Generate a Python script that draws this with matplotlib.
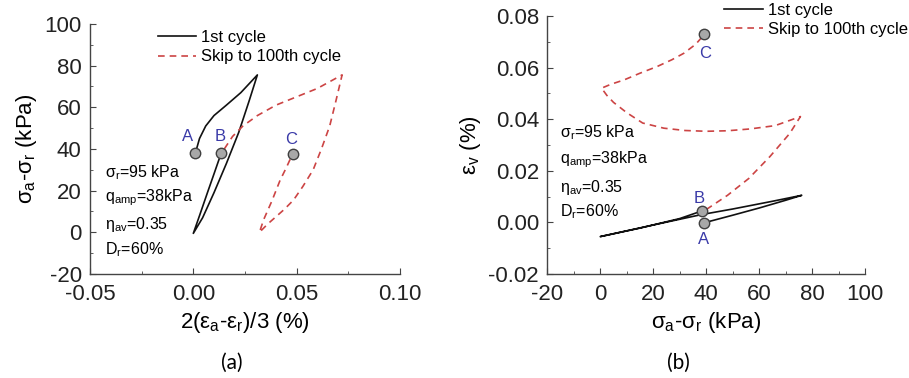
import matplotlib
matplotlib.use("Agg")
from matplotlib import pyplot as plt
from matplotlib.ticker import MultipleLocator

plt.rcParams['font.family'] = ['Liberation Sans', 'DejaVu Sans']
plt.rcParams['mathtext.fontset'] = 'custom'
plt.rcParams['mathtext.rm'] = 'Liberation Sans'
plt.rcParams['mathtext.it'] = 'Liberation Sans'
plt.rcParams['mathtext.default'] = 'regular'
plt.rcParams['axes.unicode_minus'] = False

# (a) deviator stress vs shear strain
c1_strain = [0.001, 0.003, 0.006, 0.010, 0.016, 0.023, 0.031, 0.027, 0.022, 0.016, 0.010, 0.0045, 0.000,
             0.003, 0.007, 0.010, 0.0135]
c1_q = [38, 45, 51, 56, 61, 67, 75.5, 63, 48, 33, 19, 7, -0.5,
        8, 19.5, 28, 38]
c100_strain = [0.015, 0.019, 0.024, 0.031, 0.040, 0.050, 0.060, 0.072, 0.069, 0.066, 0.062, 0.058, 0.053,
               0.0485, 0.044, 0.040, 0.036, 0.032, 0.034, 0.038, 0.042, 0.045, 0.048]
c100_q = [40, 46, 51, 56, 61, 65, 69, 75.5, 63, 51, 40, 30, 22,
          15.5, 11, 7.5, 4, 0, 6, 15, 25, 31, 37.5]
pts_strain = [0.001, 0.0135, 0.048]
pts_q = [38, 38, 37.5]

# (b) volumetric strain vs deviator stress
c1_qb = [39, 50, 60, 70, 76, 65, 50, 38, 20, 0, 15, 30, 38.5]
c1_ev = [-0.0002, 0.0028, 0.0056, 0.0086, 0.0105, 0.0082, 0.0052, 0.0030, -0.0010, -0.0055,
         -0.0022, 0.0015, 0.0045]
c100_qb = [40, 48, 56, 64, 71.5, 75.5, 66, 56.5, 48, 40, 32, 24, 16, 10, 5, 2.5, 0.5,
           4, 9, 15, 21.5, 27, 31.5, 36, 39]
c100_ev = [0.005, 0.0105, 0.017, 0.0255, 0.0345, 0.041, 0.0375, 0.0362, 0.0355, 0.0353, 0.0356,
           0.0365, 0.0385, 0.0425, 0.0465, 0.0492, 0.052,
           0.0535, 0.0552, 0.0578, 0.0604, 0.063, 0.0655, 0.069, 0.0725]
pts_qb = [39, 38.5, 39]
pts_ev = [-0.0001, 0.0044, 0.073]

labels = ["A", "B", "C"]
params = [r'$\sigma_r$=95 kPa', r'$q_{amp}$=38kPa', r'$\eta_{av}$=0.35', r'$D_r$=60%']

red = '#cc4444'
blue = '#3a3aa8'
mk = dict(marker='o', ms=7.5, mfc='#a8a8a8', mec='#404040', mew=1.0, ls='none', zorder=5)

fig = plt.figure(figsize=(9.09, 3.78), dpi=100)
ax1 = fig.add_axes([0.099, 0.275, 0.341, 0.662])
ax2 = fig.add_axes([0.602, 0.275, 0.350, 0.683])

for ax in (ax1, ax2):
    for s in ('top', 'right'):
        ax.spines[s].set_visible(False)
    for s in ('left', 'bottom'):
        ax.spines[s].set_color('#444444')
        ax.spines[s].set_linewidth(1.0)
    ax.tick_params(which='both', direction='in', colors='#444444', labelcolor='#222222')
    ax.tick_params(which='major', length=4, labelsize=16)
    ax.tick_params(which='minor', length=2.5)
    ax.tick_params(axis='x', pad=7)
    ax.tick_params(axis='y', pad=6)

l1, = ax1.plot(c1_strain, c1_q, color='#111111', lw=1.2)
l2, = ax1.plot(c100_strain, c100_q, color=red, lw=1.2, dashes=(4, 3))
ax1.plot(pts_strain, pts_q, **mk)
for lab, x, y in zip(labels, [-0.0026, 0.013, 0.0475], [46, 46, 44.5]):
    ax1.text(x, y, lab, color=blue, fontsize=12, ha='center', va='center')
ax1.set_xlim(-0.05, 0.10)
ax1.set_ylim(-20, 100)
ax1.xaxis.set_major_locator(MultipleLocator(0.05))
ax1.xaxis.set_minor_locator(MultipleLocator(0.025))
ax1.yaxis.set_major_locator(MultipleLocator(20))
ax1.yaxis.set_minor_locator(MultipleLocator(10))
ax1.xaxis.set_major_formatter(plt.FuncFormatter(lambda v, p: f"{v:.2f}"))
ax1.set_xlabel('2($ε_a$-$ε_r$)/3 (%)', fontsize=16, labelpad=4)
ax1.set_ylabel(r'$\sigma_a$-$\sigma_r$ (kPa)', fontsize=16, labelpad=4)
for t, yf in zip(params, [0.404, 0.306, 0.198, 0.098]):
    ax1.text(0.048, yf, t, transform=ax1.transAxes, fontsize=11.5, va='center', ha='left')

ax2.plot(c1_qb, c1_ev, color='#111111', lw=1.2)
ax2.plot(c100_qb, c100_ev, color=red, lw=1.2, dashes=(4, 3))
ax2.plot(pts_qb, pts_ev, **mk)
for lab, x, y in zip(labels, [39, 37.5, 39.6], [-0.0068, 0.0093, 0.0655]):
    ax2.text(x, y, lab, color=blue, fontsize=12, ha='center', va='center')
ax2.set_xlim(-20, 100)
ax2.set_ylim(-0.02, 0.08)
ax2.xaxis.set_major_locator(MultipleLocator(20))
ax2.xaxis.set_minor_locator(MultipleLocator(10))
ax2.yaxis.set_major_locator(MultipleLocator(0.02))
ax2.yaxis.set_minor_locator(MultipleLocator(0.01))
ax2.yaxis.set_major_formatter(plt.FuncFormatter(lambda v, p: f"{v:.2f}"))
ax2.set_xlabel(r'$\sigma_a$-$\sigma_r$ (kPa)', fontsize=16, labelpad=4)
ax2.set_ylabel('$ε_v$ (%)', fontsize=16, labelpad=4)
for t, yf in zip(params, [0.547, 0.442, 0.337, 0.240]):
    ax2.text(0.041, yf, t, transform=ax2.transAxes, fontsize=11.5, va='center', ha='left')

leg_kw = dict(frameon=False, fontsize=12, handlelength=2.3, handletextpad=0.3,
              labelspacing=0.25, borderpad=0, borderaxespad=0, loc='upper left')
fig.legend([l1, l2], ['1st cycle', 'Skip to 100th cycle'],
           bbox_to_anchor=(0.174, 0.92), **leg_kw)
fig.legend([l1, l2], ['1st cycle', 'Skip to 100th cycle'],
           bbox_to_anchor=(0.797, 0.993), **leg_kw)

fig.text(0.255, 0.04, '(a)', fontsize=15, ha='center', va='center', family=['Lato', 'DejaVu Sans'])
fig.text(0.746, 0.04, '(b)', fontsize=15, ha='center', va='center', family=['Lato', 'DejaVu Sans'])

fig.savefig('out.png', dpi=100)
